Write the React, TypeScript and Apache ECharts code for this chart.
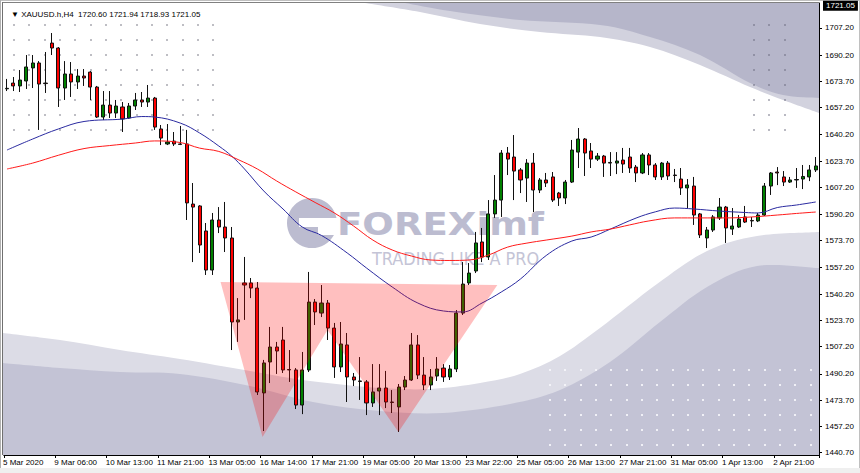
import React, { useEffect, useRef } from 'react';
import * as echarts from 'echarts';

// ---------- data ----------
const tickLabels = [
  '5 Mar 2020', '9 Mar 06:00', '10 Mar 13:00', '11 Mar 21:00', '13 Mar 05:00', '16 Mar 14:00',
  '17 Mar 21:00', '19 Mar 05:00', '20 Mar 13:00', '23 Mar 22:00', '25 Mar 05:00', '26 Mar 13:00',
  '27 Mar 21:00', '31 Mar 05:00', '1 Apr 13:00', '2 Apr 21:00',
];
const priceTicks = [
  1440.7, 1457.2, 1473.7, 1490.2, 1507.2, 1523.7, 1540.2, 1557.2, 1573.7, 1590.2, 1607.2,
  1623.7, 1640.2, 1657.2, 1673.7, 1690.2, 1707.2,
];
const lastPrice = 1721.05;
const headerText = '\u25BC XAUUSD.h,H4  1720.60 1721.94 1718.93 1721.05';

const opens = [
  1669.0, 1672.6, 1670.8, 1673.9, 1682.1, 1685.2, 1672.6, 1697.7, 1694.6, 1669.5,
  1678.3, 1673.3, 1677.0, 1679.5, 1670.1, 1651.3, 1658.8, 1653.8, 1657.6, 1650.7,
  1658.2, 1662.0, 1660.7, 1663.2, 1643.8, 1634.4, 1636.2, 1634.4, 1634.4, 1596.7,
  1595.5, 1579.8, 1555.3, 1586.7, 1582.3, 1575.4, 1522.7, 1547.2, 1547.2, 1544.0,
  1478.2, 1497.6, 1507.0, 1511.4, 1492.9, 1492.6, 1470.6, 1492.6, 1535.2, 1528.3,
  1534.6, 1518.9, 1494.5, 1508.3, 1488.2, 1485.7, 1485.1, 1471.9, 1479.4, 1481.3,
  1472.5, 1469.4, 1481.9, 1486.3, 1508.3, 1489.4, 1483.2, 1488.8, 1493.8, 1488.2,
  1493.2, 1528.3, 1547.2, 1554.7, 1572.9, 1563.5, 1590.5, 1599.2, 1628.7, 1626.2,
  1618.1, 1613.0, 1622.4, 1605.5, 1611.8, 1613.7, 1603.6, 1600.5, 1610.5, 1629.3,
  1637.5, 1630.0, 1624.9, 1626.8, 1622.8, 1622.4, 1624.3, 1626.2, 1619.9, 1616.2,
  1627.5, 1621.2, 1613.7, 1622.4, 1614.9, 1612.4, 1606.8, 1608.0, 1590.5, 1575.4,
  1580.4, 1588.0, 1594.8, 1581.0, 1582.3, 1588.6, 1586.4, 1586.1, 1589.8, 1608.0,
  1616.8, 1613.7, 1610.5, 1611.8, 1612.4, 1613.7, 1618.1,
];
const closes = [
  1669.3, 1670.8, 1674.5, 1682.7, 1685.2, 1672.0, 1672.3, 1694.6, 1669.5, 1678.3,
  1673.3, 1677.0, 1675.8, 1670.1, 1651.3, 1658.8, 1653.8, 1658.2, 1650.1, 1658.2,
  1662.0, 1660.7, 1663.2, 1645.0, 1638.1, 1635.6, 1634.4, 1634.1, 1597.4, 1594.8,
  1571.0, 1555.3, 1586.7, 1582.3, 1575.4, 1522.7, 1524.0, 1545.9, 1544.0, 1478.8,
  1497.0, 1507.0, 1504.5, 1492.6, 1492.6, 1470.6, 1492.6, 1535.2, 1529.0, 1534.6,
  1518.9, 1494.5, 1508.9, 1488.2, 1486.3, 1485.4, 1471.9, 1478.8, 1481.3, 1472.5,
  1472.2, 1481.9, 1486.3, 1508.3, 1489.4, 1483.2, 1488.2, 1493.2, 1488.2, 1493.2,
  1528.3, 1546.5, 1553.4, 1572.3, 1563.5, 1590.5, 1599.2, 1628.7, 1624.9, 1617.4,
  1611.8, 1622.4, 1605.5, 1611.8, 1609.9, 1599.2, 1600.5, 1610.5, 1630.6, 1637.5,
  1628.7, 1624.9, 1626.8, 1622.4, 1622.4, 1623.7, 1621.8, 1619.3, 1616.2, 1627.5,
  1621.2, 1613.7, 1622.4, 1614.3, 1614.6, 1606.8, 1608.7, 1589.8, 1577.3, 1580.4,
  1588.6, 1594.8, 1581.7, 1582.9, 1587.3, 1585.4, 1586.1, 1589.8, 1608.0, 1616.2,
  1616.2, 1610.5, 1611.8, 1612.1, 1614.0, 1618.1, 1620.6,
];
const highs = [
  1675.2, 1676.4, 1680.8, 1690.2, 1690.2, 1686.4, 1692.1, 1704.0, 1695.2, 1686.4,
  1685.8, 1681.4, 1681.4, 1680.1, 1670.8, 1667.6, 1667.6, 1662.0, 1660.7, 1660.1,
  1666.4, 1667.0, 1671.4, 1663.9, 1646.3, 1646.9, 1641.9, 1645.7, 1643.2, 1609.9,
  1596.0, 1584.8, 1591.1, 1594.8, 1598.0, 1582.3, 1537.7, 1563.5, 1550.3, 1547.8,
  1498.9, 1519.6, 1510.2, 1519.6, 1505.1, 1493.8, 1503.9, 1554.1, 1537.1, 1545.9,
  1536.5, 1522.1, 1522.7, 1515.8, 1490.7, 1500.7, 1486.3, 1496.3, 1496.3, 1492.0,
  1480.0, 1483.8, 1488.8, 1515.8, 1514.5, 1500.7, 1493.2, 1500.7, 1496.3, 1495.7,
  1530.2, 1560.3, 1559.7, 1579.2, 1581.7, 1599.2, 1614.9, 1630.6, 1632.5, 1640.0,
  1619.3, 1624.9, 1628.7, 1613.0, 1616.2, 1616.8, 1604.3, 1611.8, 1636.9, 1644.4,
  1638.1, 1635.0, 1628.7, 1627.5, 1629.3, 1629.3, 1631.9, 1631.9, 1621.2, 1628.7,
  1628.7, 1622.4, 1623.1, 1623.7, 1618.7, 1619.3, 1612.4, 1613.7, 1591.1, 1582.3,
  1589.8, 1600.5, 1595.5, 1594.2, 1589.8, 1595.5, 1588.6, 1591.1, 1609.9, 1616.8,
  1619.9, 1617.4, 1613.7, 1619.3, 1621.2, 1621.2, 1626.2,
];
const lows = [
  1667.6, 1667.6, 1667.0, 1668.9, 1669.5, 1643.2, 1666.4, 1690.2, 1657.6, 1662.0,
  1663.9, 1668.9, 1670.8, 1662.0, 1650.7, 1649.4, 1650.7, 1650.7, 1641.9, 1650.1,
  1655.7, 1657.6, 1657.6, 1643.2, 1633.7, 1633.7, 1633.1, 1633.7, 1586.7, 1560.3,
  1566.0, 1552.2, 1552.2, 1578.5, 1566.6, 1505.1, 1510.2, 1524.0, 1537.7, 1476.9,
  1454.3, 1484.4, 1490.1, 1490.7, 1485.1, 1468.1, 1464.9, 1491.3, 1520.8, 1525.8,
  1511.4, 1487.6, 1491.3, 1472.5, 1482.5, 1473.8, 1464.3, 1469.4, 1464.3, 1468.7,
  1465.6, 1453.7, 1480.0, 1485.7, 1486.9, 1480.0, 1480.0, 1485.7, 1485.1, 1486.3,
  1491.3, 1527.1, 1545.9, 1553.4, 1560.3, 1561.6, 1588.0, 1588.6, 1614.9, 1599.2,
  1603.6, 1598.0, 1591.7, 1603.6, 1607.4, 1598.0, 1595.5, 1596.7, 1609.9, 1619.3,
  1614.3, 1619.3, 1623.7, 1613.7, 1614.3, 1615.5, 1616.2, 1616.2, 1610.5, 1615.5,
  1614.9, 1611.8, 1611.8, 1611.8, 1610.5, 1602.4, 1594.2, 1583.6, 1575.4, 1569.1,
  1579.2, 1586.7, 1572.3, 1577.3, 1581.7, 1584.8, 1582.3, 1585.4, 1589.2, 1602.4,
  1608.6, 1608.0, 1609.9, 1606.8, 1606.1, 1611.1, 1616.8,
];

// moving averages, read at sampled bars
const blueIdx = [0, 4, 8, 12, 18, 21, 23, 27, 30, 33, 35, 37, 40, 43, 46, 49, 53, 56, 60, 64, 68, 71, 74, 77, 80, 84, 88, 91, 94, 98, 101, 104, 107, 111, 115, 117, 120, 123, 126];
const blueVal = [1630.6, 1637.5, 1643.8, 1648.5, 1650.0, 1651.6, 1651.3, 1647.5, 1641.3, 1633.1, 1626.8, 1618.7, 1604.9, 1593.6, 1582.3, 1577.0, 1566.0, 1556.6, 1544.7, 1534.6, 1529.6, 1529.0, 1534.6, 1541.5, 1549.7, 1564.4, 1573.5, 1576.0, 1581.0, 1587.9, 1591.8, 1594.2, 1593.6, 1592.3, 1591.4, 1591.1, 1594.5, 1596.1, 1598.0];
const redIdx = [0, 4, 8, 12, 16, 20, 23, 27, 30, 33, 36, 39, 42, 45, 48, 51, 54, 57, 60, 63, 66, 69, 72, 75, 78, 81, 84, 88, 91, 94, 97, 100, 104, 108, 112, 116, 120, 123, 126];
const redVal = [1618.7, 1622.4, 1627.3, 1631.5, 1633.4, 1635.0, 1636.3, 1635.3, 1631.8, 1629.7, 1624.6, 1618.7, 1611.2, 1604.3, 1597.7, 1591.1, 1582.9, 1574.1, 1567.9, 1564.1, 1561.6, 1561.3, 1561.6, 1564.7, 1569.7, 1572.2, 1574.1, 1576.6, 1579.2, 1581.0, 1583.6, 1586.1, 1588.0, 1588.0, 1588.0, 1588.6, 1589.8, 1590.8, 1591.7];

// double-bottom annotation vertices (bar index, price)
const patternIdx = [33.27, 76.39, 60.98, 49.93, 39.81];
const patternPrice = [1547.8, 1545.9, 1453.7, 1517.7, 1450.6];

// ---------- decoration helpers ----------
function smoothPath(pts: number[][]): string {
  let d = `M${pts[0][0]},${pts[0][1]}`;
  for (let i = 0; i < pts.length - 1; i++) {
    const p0 = pts[i - 1] || pts[i];
    const p1 = pts[i];
    const p2 = pts[i + 1];
    const p3 = pts[i + 2] || p2;
    const c1x = p1[0] + (p2[0] - p0[0]) / 6, c1y = p1[1] + (p2[1] - p0[1]) / 6;
    const c2x = p2[0] - (p3[0] - p1[0]) / 6, c2y = p2[1] - (p3[1] - p1[1]) / 6;
    d += ` C${c1x.toFixed(1)},${c1y.toFixed(1)} ${c2x.toFixed(1)},${c2y.toFixed(1)} ${p2[0]},${p2[1]}`;
  }
  return d;
}

const topLightPts = [[365, 3], [420, 12], [480, 24], [540, 32], [600, 37], [650, 47], [700, 65], [750, 87], [783, 100], [819, 113]];
const topDarkPts = [[405, 3], [450, 11], [520, 20], [600, 25], [650, 37], [700, 55], [750, 83], [783, 95], [819, 98]];
const botLightPts = [[3, 333], [60, 340], [120, 350], [180, 359], [250, 371], [310, 381], [380, 388], [430, 389], [480, 383], [520, 374], [560, 356], [600, 328], [657, 284], [707, 251], [757, 236], [819, 232]];
const botDarkPts = [[3, 363], [60, 368], [120, 372], [180, 374], [250, 386], [313, 402], [380, 411], [443, 413], [510, 404], [560, 390], [610, 362], [660, 322], [707, 287], [757, 266], [819, 268]];

export default function App() {
  const ref = useRef<HTMLDivElement>(null);

  useEffect(() => {
    document.body.style.margin = '0';
    if (!ref.current) return;

    echarts.graphic.registerShape('bgTopLight', echarts.graphic.extendPath(smoothPath(topLightPts) + ' L819,3 Z', {}));
    echarts.graphic.registerShape('bgTopDark', echarts.graphic.extendPath(smoothPath(topDarkPts) + ' L819,3 Z', {}));
    echarts.graphic.registerShape('bgBotLight', echarts.graphic.extendPath(smoothPath(botLightPts) + ' L819,455 L3,455 Z', {}));
    echarts.graphic.registerShape('bgBotDark', echarts.graphic.extendPath(smoothPath(botDarkPts) + ' L819,455 L3,455 Z', {}));

    const chart = echarts.init(ref.current, undefined, { renderer: 'svg' });

    const categories = opens.map((_, i) => String(i));
    const candles = opens.map((o, i) => [o, closes[i], lows[i], highs[i]]);

    const dots: any[] = [];
    const addDots = (x0: number, y0: number, nx: number, ny: number, fill: string) => {
      for (let a = 0; a < nx; a++) {
        for (let b = 0; b < ny; b++) {
          dots.push({
            type: 'rect', silent: true,
            shape: { x: Math.round(x0 + a * 15.33) - 1, y: Math.round(y0 + b * 15) - 1, width: 2, height: 2 },
            style: { fill },
          });
        }
      }
    };
    addDots(14, 25, 14, 8, 'rgba(110,110,125,0.45)');
    addDots(754, 25, 3, 8, 'rgba(100,100,120,0.45)');
    addDots(550, 370, 18, 6, 'rgba(245,245,250,0.9)');

    const wm = '#bcbcd0';

    const option: any = {
      animation: false,
      backgroundColor: '#ffffff',
      title: {
        text: headerText,
        left: 6, top: 5,
        textStyle: { fontSize: 8, fontWeight: 'normal', color: '#000', fontFamily: 'Liberation Sans' },
      },
      grid: { left: 3, right: 41, top: 3, bottom: 18 },
      xAxis: {
        type: 'category',
        data: categories,
        boundaryGap: true,
        axisLine: { show: true, lineStyle: { color: '#000', width: 1 } },
        axisTick: { show: true, interval: 7, length: 3, lineStyle: { color: '#000' } },
        axisLabel: {
          interval: 7,
          formatter: (_v: string, idx: number) => (idx % 8 === 0 ? tickLabels[idx / 8] || '' : ''),
          align: 'left',
          padding: [0, 0, 0, -4],
          margin: 3,
          fontSize: 8,
          color: '#000',
          fontFamily: 'Liberation Sans',
        },
        splitLine: { show: false },
      },
      yAxis: {
        type: 'value',
        position: 'right',
        min: 1439.25,
        max: 1722.84,
        splitLine: { show: false },
        axisLine: { show: true, lineStyle: { color: '#000', width: 1 } },
        axisTick: { show: true, length: 3, customValues: priceTicks, lineStyle: { color: '#000' } },
        axisLabel: {
          customValues: priceTicks,
          formatter: (v: number) => v.toFixed(2),
          color: '#000',
          fontSize: 8,
          margin: 6,
          fontFamily: 'Liberation Sans',
        },
      },
      graphic: [
        { type: 'bgTopLight', x: 0, y: 0, silent: true, style: { fill: '#d2d2de' } },
        { type: 'bgTopDark', x: 0, y: 0, silent: true, style: { fill: '#b6b6ca' } },
        { type: 'bgBotLight', x: 0, y: 0, silent: true, style: { fill: '#dcdce6' } },
        { type: 'bgBotDark', x: 0, y: 0, silent: true, style: { fill: '#c3c3d5' } },
        ...dots,
        { type: 'circle', silent: true, shape: { cx: 312, cy: 223, r: 25 }, style: { fill: wm } },
        { type: 'rect', silent: true, shape: { x: 299, y: 218, width: 40, height: 9 }, style: { fill: '#ffffff' } },
        { type: 'rect', silent: true, shape: { x: 318, y: 227, width: 21, height: 8 }, style: { fill: '#ffffff' } },
        {
          type: 'text', silent: true, x: 337, y: 224, scaleX: 1.16,
          style: { text: 'FOREXimf', fontSize: 32, fontWeight: 'bold', fontFamily: 'DejaVu Sans', fill: wm, textAlign: 'left', textVerticalAlign: 'middle' },
        },
        {
          type: 'text', silent: true, x: 372, y: 259, scaleX: 0.946,
          style: { text: 'TRADING LIKE A PRO', fontSize: 17, fontFamily: 'DejaVu Sans', fill: '#c4c4d6', textAlign: 'left', textVerticalAlign: 'middle' },
        },
        { type: 'line', silent: true, shape: { x1: 0, y1: 0.5, x2: 860, y2: 0.5 }, style: { stroke: '#c0c0c0' } },
        { type: 'line', silent: true, shape: { x1: 3, y1: 2.5, x2: 819, y2: 2.5 }, style: { stroke: '#808080' } },
        { type: 'line', silent: true, shape: { x1: 0.5, y1: 0, x2: 0.5, y2: 473 }, style: { stroke: '#b0b0b0' } },
        { type: 'line', silent: true, shape: { x1: 2.5, y1: 2, x2: 2.5, y2: 455 }, style: { stroke: '#707070' } },
        { type: 'line', silent: true, shape: { x1: 859.5, y1: 0, x2: 859.5, y2: 473 }, style: { stroke: '#c0c0c0' } },
        { type: 'rect', silent: true, shape: { x: 0, y: 468, width: 860, height: 5 }, style: { fill: '#efefef' } },
      ],
      series: [
        {
          type: 'candlestick',
          data: candles,
          barWidth: 3.6,
          z: 3,
          itemStyle: {
            color: '#008000', color0: '#ff0000',
            borderColor: '#111', borderColor0: '#111', borderColorDoji: '#111',
            borderWidth: 1,
          },
          markLine: {
            silent: true,
            symbol: 'none',
            data: [{ yAxis: lastPrice }],
            lineStyle: { color: 'rgba(0,0,0,0)', width: 0 },
            label: {
              show: true, position: 'end', distance: 4,
              formatter: lastPrice.toFixed(2),
              backgroundColor: '#000', color: '#fff', padding: [1, 3, 1, 3],
              fontSize: 8, fontFamily: 'Liberation Sans',
            },
          },
        },
        {
          type: 'line', name: 'MA fast',
          data: blueIdx.map((x, k) => [x, blueVal[k]]),
          showSymbol: false, smooth: 0.4, z: 4,
          lineStyle: { color: '#2a2aa0', width: 1 },
        },
        {
          type: 'line', name: 'MA slow',
          data: redIdx.map((x, k) => [x, redVal[k]]),
          showSymbol: false, smooth: 0.4, z: 4,
          lineStyle: { color: '#ff1a1a', width: 1 },
        },
        {
          type: 'custom',
          z: 6,
          silent: true,
          clip: false,
          data: patternIdx.map((x, k) => [Math.round(x), patternPrice[k]]),
          renderItem: (params: any, api: any) => {
            if (params.dataIndex !== 0) return { type: 'group', children: [] };
            const bw = api.size([1, 0])[0];
            const pts = patternIdx.map((x, k) => {
              const b = Math.floor(x);
              const p = api.coord([b, patternPrice[k]]);
              return [p[0] + (x - b) * bw, p[1]];
            });
            return { type: 'polygon', shape: { points: pts }, style: { fill: 'rgba(255,0,0,0.25)' } };
          },
        },
      ],
    };

    chart.setOption(option);
    return () => chart.dispose();
  }, []);

  return <div ref={ref} style={{ width: 860, height: 473 }} />;
}
